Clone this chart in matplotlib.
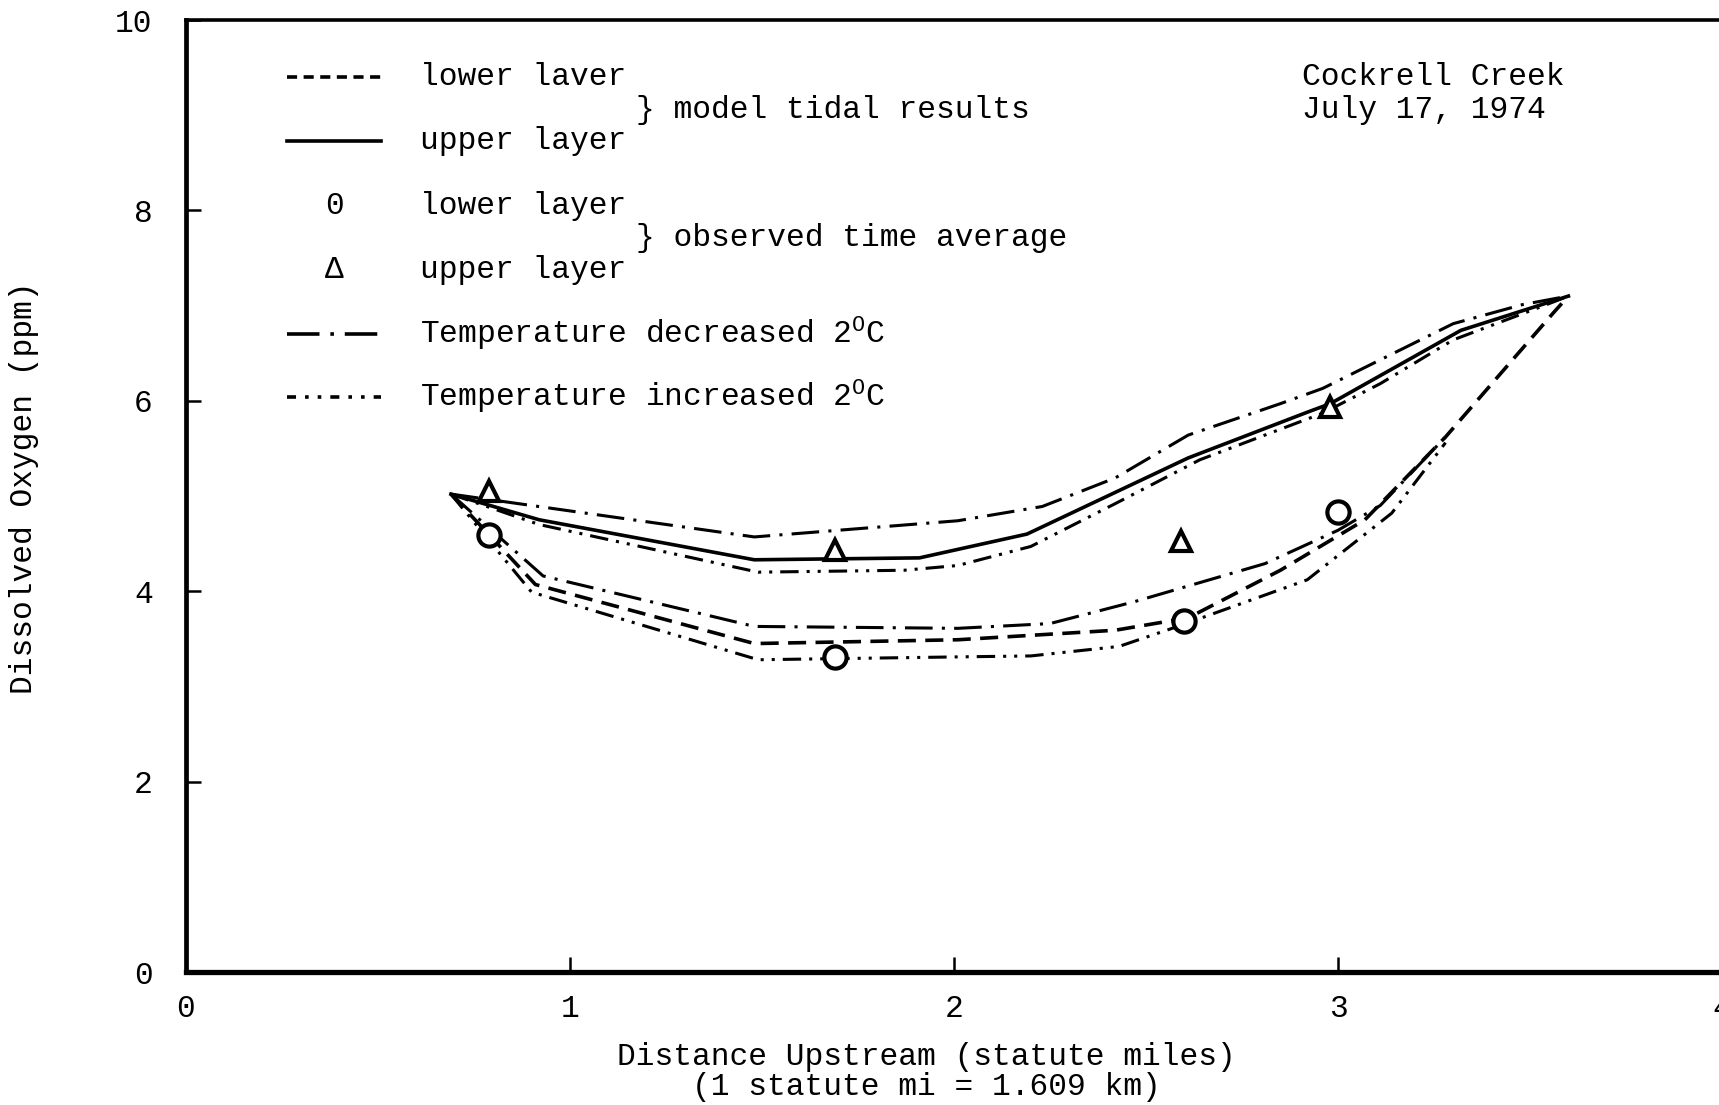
import numpy as np
import matplotlib
matplotlib.use("Agg")
import matplotlib.pyplot as plt
from matplotlib.lines import Line2D

# model tidal results
upper_x = [0.69, 0.92, 1.48, 1.91, 2.19, 2.61, 2.92, 2.98, 3.32, 3.60]
upper_y = [5.02, 4.75, 4.33, 4.35, 4.60, 5.40, 5.88, 5.97, 6.74, 7.10]
lower_x = [0.69, 0.79, 0.91, 1.48, 2.01, 2.42, 2.61, 2.85, 3.07, 3.28, 3.56, 3.60]
lower_y = [5.02, 4.59, 4.07, 3.45, 3.49, 3.59, 3.72, 4.22, 4.75, 5.62, 6.92, 7.10]

# temperature decreased 2 C
dec_up_x = [0.69, 0.83, 1.48, 2.01, 2.23, 2.42, 2.61, 2.85, 2.96, 3.30, 3.48, 3.60]
dec_up_y = [5.02, 4.94, 4.57, 4.74, 4.89, 5.19, 5.64, 5.97, 6.13, 6.81, 7.01, 7.10]
dec_lo_x = [0.69, 0.93, 1.48, 2.01, 2.25, 2.47, 2.81, 3.00, 3.11, 3.28]
dec_lo_y = [5.02, 4.16, 3.63, 3.61, 3.66, 3.89, 4.29, 4.64, 4.90, 5.62]

# temperature increased 2 C
inc_up_x = [0.69, 0.92, 1.49, 1.87, 2.01, 2.20, 2.42, 2.64, 2.96, 3.11, 3.30, 3.53, 3.60]
inc_up_y = [5.02, 4.70, 4.20, 4.22, 4.27, 4.47, 4.92, 5.38, 5.87, 6.18, 6.64, 6.99, 7.10]
inc_lo_x = [0.69, 0.90, 1.49, 2.01, 2.20, 2.43, 2.59, 2.92, 3.14, 3.28]
inc_lo_y = [5.02, 3.99, 3.28, 3.31, 3.32, 3.42, 3.64, 4.12, 4.82, 5.56]

# observed time average
obs_lo_x = [0.79, 1.69, 2.60, 3.00]
obs_lo_y = [4.59, 3.31, 3.69, 4.83]
obs_up_x = [0.79, 1.69, 2.59, 2.98]
obs_up_y = [5.05, 4.43, 4.53, 5.94]

xticks = [0, 1, 2, 3, 4]
yticks = [0, 2, 4, 6, 8, 10]

FONT = "Liberation Mono"
FS = 22.5
plt.rcParams["font.family"] = [FONT, "DejaVu Sans Mono"]
plt.rcParams["mathtext.fontset"] = "custom"
plt.rcParams["mathtext.rm"] = FONT
plt.rcParams["mathtext.default"] = "regular"

W, H = 1719, 1105
fig = plt.figure(figsize=(W / 100, H / 100), dpi=100)
ax = fig.add_axes([186 / W, 1 - 972 / H, (1722 - 186) / W, (972 - 20) / H])

lw = 2.6
dash = (0, (5, 2.6))
dashdot = (0, (9, 3, 1, 3))
dashdotdot = (0, (6, 2.6, 1, 2.6, 1, 2.6))

ax.plot(upper_x, upper_y, color="black", lw=lw, ls="-")
ax.plot(lower_x, lower_y, color="black", lw=lw, ls=dash)
ax.plot(dec_up_x, dec_up_y, color="black", lw=lw * 0.85, ls=dashdot)
ax.plot(dec_lo_x, dec_lo_y, color="black", lw=lw * 0.85, ls=dashdot)
ax.plot(inc_up_x, inc_up_y, color="black", lw=lw * 0.85, ls=dashdotdot)
ax.plot(inc_lo_x, inc_lo_y, color="black", lw=lw * 0.85, ls=dashdotdot)

ax.plot(obs_lo_x, obs_lo_y, ls="none", marker="o", ms=16, mfc="white", mec="black", mew=3)
ax.plot(obs_up_x, obs_up_y, ls="none", marker="^", ms=15, mfc="white", mec="black", mew=3)

ax.set_xlim(0, 4)
ax.set_ylim(0, 10)
ax.set_xticks(xticks)
ax.set_yticks(yticks)
ax.tick_params(direction="in", length=11, width=1.8, labelsize=FS)
ax.tick_params(axis="y", pad=24)
ax.tick_params(axis="x", pad=16)
for lab in ax.get_xticklabels() + ax.get_yticklabels():
    lab.set_family(FONT)

ax.spines["right"].set_visible(False)
ax.spines["left"].set_linewidth(3.4)
ax.spines["bottom"].set_linewidth(3.8)
ax.spines["top"].set_linewidth(2.6)


def fx(px):
    return px / W


def fy(py):
    return 1 - py / H


def label(px, py, s, **kw):
    fig.text(fx(px), fy(py), s, fontsize=FS, family=FONT, va="center", ha="left", **kw)


# legend
x0, x1 = 287, 381
samples = [(76.7, dash), (141.4, "-"), (334, dashdot), (397, dashdotdot)]
for py, style in samples:
    if style == dashdotdot:
        style = (0, (2.5, 2.5, 1, 2.5, 1, 2.5))
    elif style == dash:
        style = (0, (2.8, 1.8))
    fig.add_artist(Line2D([fx(x0), fx(x1)], [fy(py), fy(py)], color="black", lw=lw, ls=style))

label(420, 76.7, "lower laver")
label(636, 109.6, "} model tidal results")
label(420, 141.4, "upper layer")
fig.text(fx(334), fy(206), "0", fontsize=FS, family=FONT, va="center", ha="center")
label(420, 206, "lower layer")
label(636, 238, "} observed time average")
fig.text(fx(334), fy(270), "Δ", fontsize=FS, family=FONT, va="center", ha="center")
label(420, 270, "upper layer")
label(420, 334, r"Temperature decreased 2$^{O}$C")
label(420, 397, r"Temperature increased 2$^{O}$C")

label(1302, 76.7, "Cockrell Creek")
label(1302, 109.6, "July 17, 1974")

fig.text(fx(24), fy(488), "Dissolved Oxygen (ppm)", fontsize=FS, family=FONT,
         rotation=90, va="center", ha="center")
fig.text(fx(926), fy(1057), "Distance Upstream (statute miles)", fontsize=FS,
         family=FONT, va="center", ha="center")
fig.text(fx(926), fy(1087), "(1 statute mi = 1.609 km)", fontsize=FS,
         family=FONT, va="center", ha="center")

fig.savefig("out.png", dpi=100)
